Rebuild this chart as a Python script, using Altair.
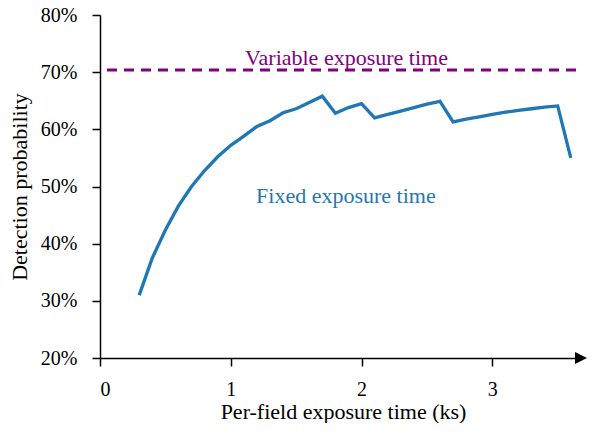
import altair as alt
import pandas as pd

# Per-field exposure time (ks)
exposure_ks = [0.3, 0.4, 0.5, 0.6, 0.7, 0.8, 0.9, 1.0, 1.1, 1.2, 1.3, 1.4, 1.5, 1.6,
               1.7, 1.8, 1.9, 2.0, 2.1, 2.2, 2.3, 2.4, 2.5, 2.6, 2.7, 2.8, 2.9, 3.0,
               3.1, 3.2, 3.3, 3.4, 3.5, 3.6]
# Detection probability (%) for fixed exposure time
fixed_prob = [31.0, 37.5, 42.4, 46.6, 50.0, 52.8, 55.2, 57.2, 58.8, 60.5, 61.5, 62.9,
              63.6, 64.7, 65.8, 62.8, 63.8, 64.5, 62.0, 62.6, 63.2, 63.8, 64.4, 64.9,
              61.3, 61.8, 62.2, 62.6, 63.0, 63.3, 63.6, 63.9, 64.1, 55.0]
variable_prob = [70.4]

labels = ["Variable exposure time", "Fixed exposure time"]
label_x = [1.885, 1.88]
label_y = [71.2, 47.15]
label_colors = ["#800080", "#1f77b4"]

x_ticks = [0, 1, 2, 3]
y_ticks = [20, 30, 40, 50, 60, 70, 80]
x_max = 3.64

FONT = "Liberation Serif"
W, H = 476, 343

df = pd.DataFrame({"x": exposure_ks, "y": [v / 100 for v in fixed_prob]})
df_var = pd.DataFrame({"y": [v / 100 for v in variable_prob]})
df_lab = pd.DataFrame({"x": label_x, "y": [v / 100 for v in label_y],
                       "text": labels, "color": label_colors})

xscale = alt.Scale(domain=[0, x_max], nice=False, zero=False)
yscale = alt.Scale(domain=[0.2, 0.8], nice=False, zero=False)

xaxis = alt.Axis(values=x_ticks, format="d", title="Per-field exposure time (ks)",
                 labelPadding=13, titleY=60, titleBaseline="alphabetic",
                 titleX=W / 2 + 5)
yaxis = alt.Axis(values=[v / 100 for v in y_ticks], format=".0%",
                 title="Detection probability", labelPadding=15,
                 titleX=-73.5, titleY=H / 2, titleAngle=270,
                 titleAlign="center", titleBaseline="alphabetic")

line = alt.Chart(df).mark_line(color="#1f77b4", strokeWidth=3.3).encode(
    x=alt.X("x:Q", scale=xscale, axis=xaxis),
    y=alt.Y("y:Q", scale=yscale, axis=yaxis),
)

rule = alt.Chart(df_var).mark_rule(color="#800080", strokeWidth=3,
                                   strokeDash=[10, 7]).encode(
    y=alt.Y("y:Q", scale=yscale)
)

text = alt.Chart(df_lab).mark_text(font=FONT, fontSize=22, align="center",
                                   baseline="alphabetic").encode(
    x=alt.X("x:Q", scale=xscale),
    y=alt.Y("y:Q", scale=yscale),
    text="text:N",
    color=alt.Color("color:N", scale=None),
)

arrow = alt.Chart(pd.DataFrame({"a": [0]})).mark_point(
    shape="M-1,-1L1,0L-1,1Z", filled=True, color="black", opacity=1, size=144
).encode(x=alt.value(W + 5), y=alt.value(H))

chart = alt.layer(rule, line, text, arrow).properties(
    width=W,
    height=H,
    autosize=alt.AutoSizeParams(type="none"),
    padding={"left": 92, "top": 7, "right": 11, "bottom": 65},
).configure_view(stroke=None).configure_axis(
    grid=False,
    domainColor="black",
    domainWidth=1.5,
    tickColor="black",
    tickWidth=1.5,
    tickSize=8,
    labelFont=FONT,
    labelFontSize=20,
    labelColor="black",
    titleFont=FONT,
    titleFontSize=22,
    titleFontWeight="normal",
    titleColor="black",
)

chart.save("out.html", embed_options={"renderer": "svg", "actions": False})
